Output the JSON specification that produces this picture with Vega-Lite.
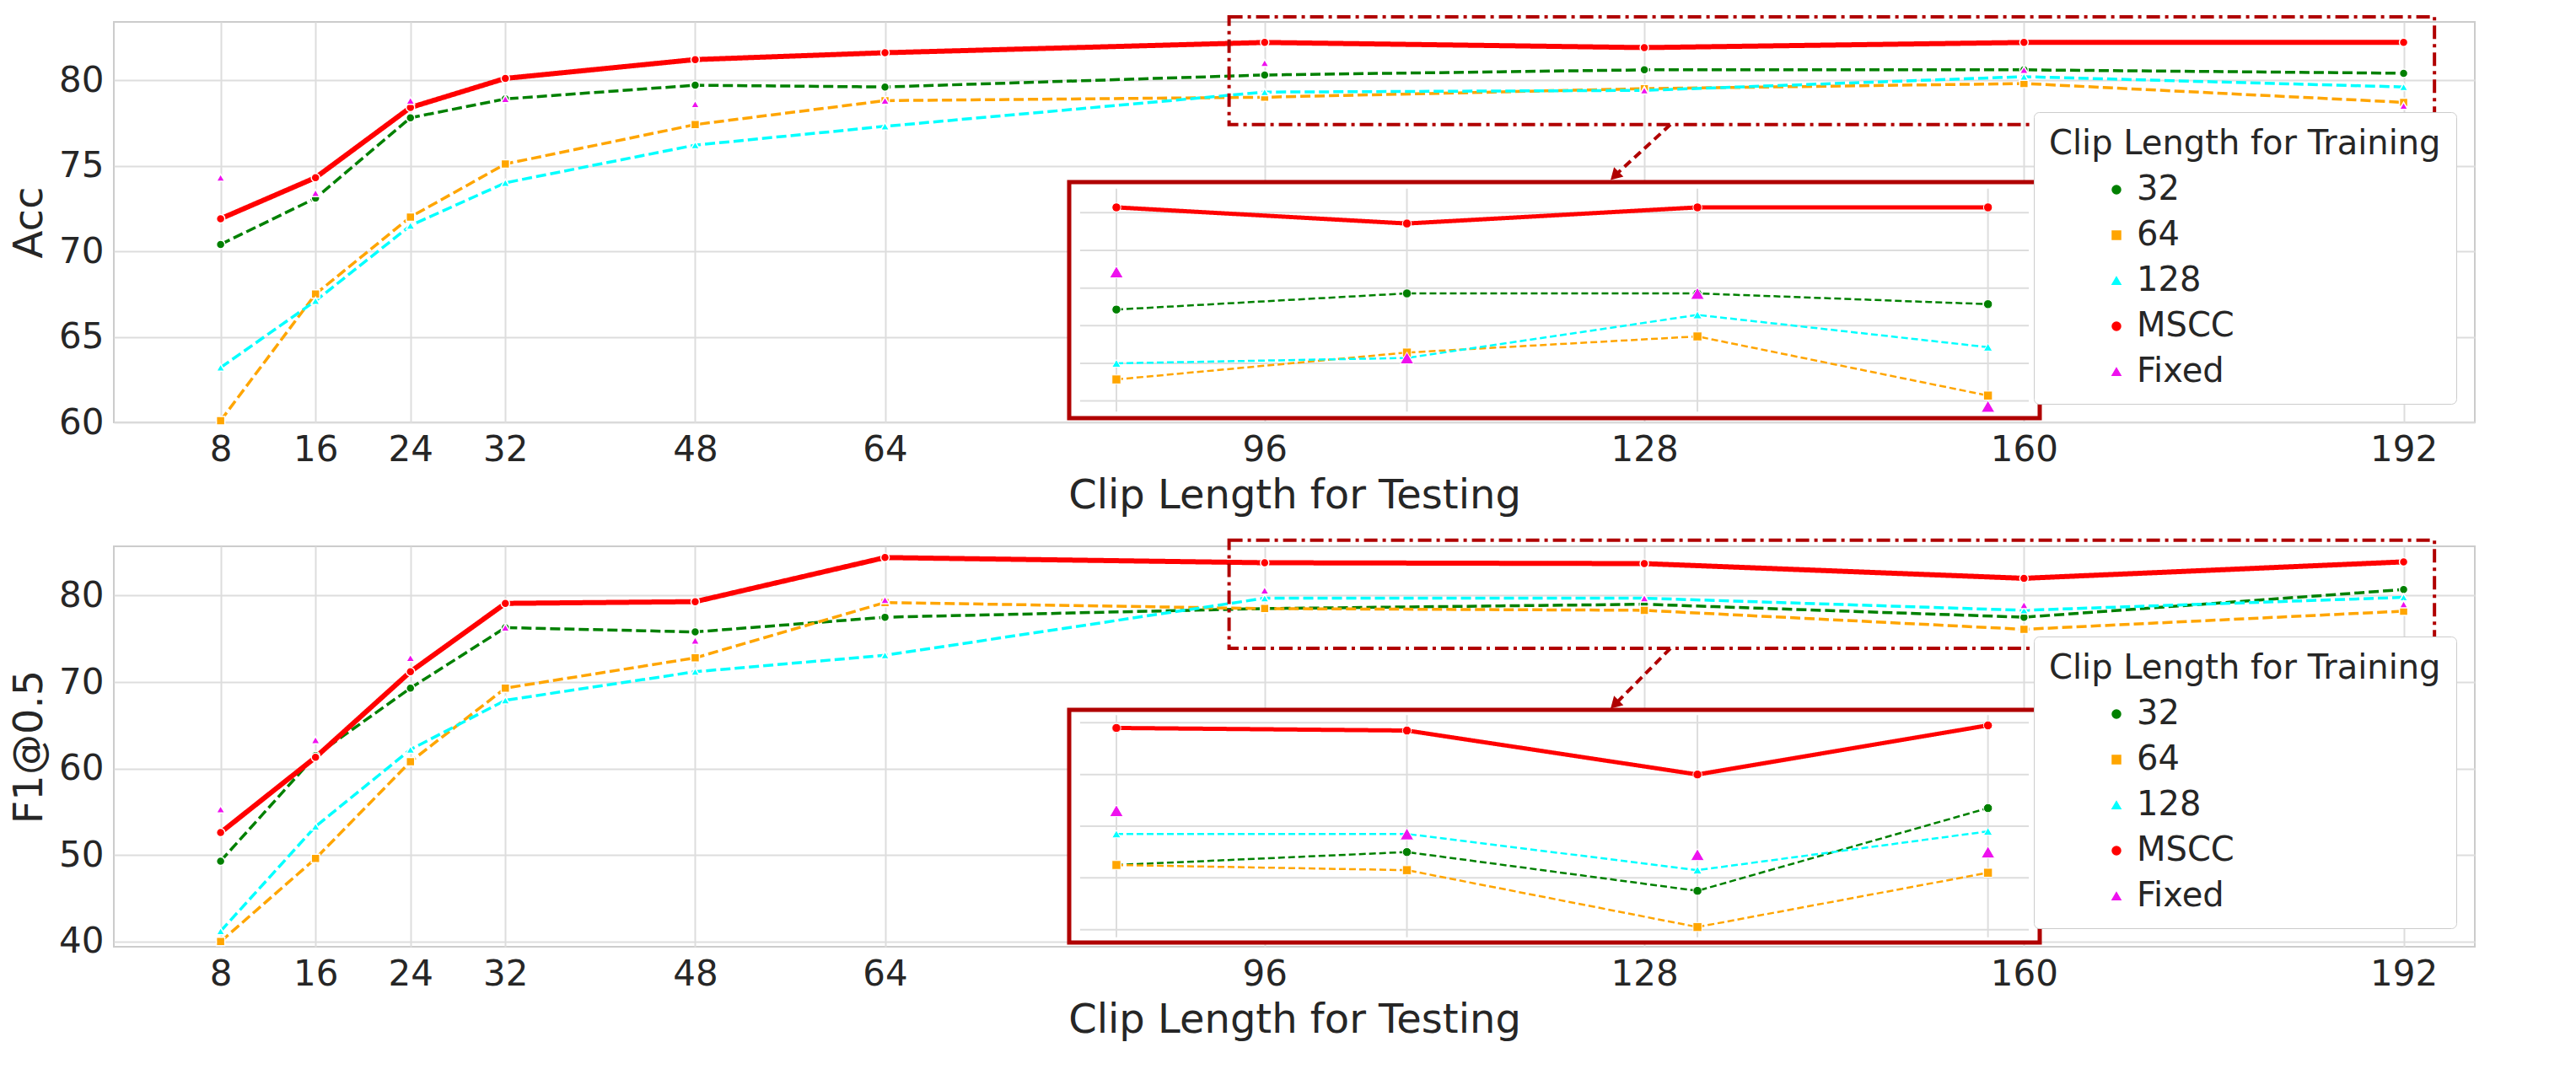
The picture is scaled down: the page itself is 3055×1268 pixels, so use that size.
{
  "$schema": "https://vega.github.io/schema/vega-lite/v6.json",
  "background": "white",
  "padding": {"left": 10, "top": 16, "right": 20, "bottom": 10},
  "config": {
    "font": "DejaVu Sans",
    "view": {"stroke": "#cccccc", "strokeWidth": 2},
    "axis": {"labelFontSize": 42, "titleFontSize": 48, "titleFontWeight": "normal", "labelColor": "#262626", "titleColor": "#262626", "gridColor": "#dddddd", "gridWidth": 2, "domain": false, "ticks": false, "labelPadding": 12, "titlePadding": 10},
    "legend": {"orient": "bottom-right", "offset": 22, "titleFontSize": 40, "labelFontSize": 40, "titleFontWeight": "normal", "titleLimit": 800, "titleColor": "#262626", "labelColor": "#262626", "fillColor": "white", "strokeColor": "#cccccc", "padding": 18, "cornerRadius": 6, "rowPadding": 14, "titlePadding": 14, "symbolOffset": 60}
  },
  "datasets": {
    "acc": [
      {"x": 8, "s": "32", "v": 70.4}, {"x": 16, "s": "32", "v": 73.1}, {"x": 24, "s": "32", "v": 77.8}, {"x": 32, "s": "32", "v": 78.9}, {"x": 48, "s": "32", "v": 79.7}, {"x": 64, "s": "32", "v": 79.6}, {"x": 96, "s": "32", "v": 80.3}, {"x": 128, "s": "32", "v": 80.6}, {"x": 160, "s": "32", "v": 80.6}, {"x": 192, "s": "32", "v": 80.4},
      {"x": 8, "s": "64", "v": 60.1}, {"x": 16, "s": "64", "v": 67.5}, {"x": 24, "s": "64", "v": 72.0}, {"x": 32, "s": "64", "v": 75.1}, {"x": 48, "s": "64", "v": 77.4}, {"x": 64, "s": "64", "v": 78.8}, {"x": 96, "s": "64", "v": 79.0}, {"x": 128, "s": "64", "v": 79.5}, {"x": 160, "s": "64", "v": 79.8}, {"x": 192, "s": "64", "v": 78.7},
      {"x": 8, "s": "128", "v": 63.2}, {"x": 16, "s": "128", "v": 67.1}, {"x": 24, "s": "128", "v": 71.5}, {"x": 32, "s": "128", "v": 74.0}, {"x": 48, "s": "128", "v": 76.2}, {"x": 64, "s": "128", "v": 77.3}, {"x": 96, "s": "128", "v": 79.3}, {"x": 128, "s": "128", "v": 79.4}, {"x": 160, "s": "128", "v": 80.2}, {"x": 192, "s": "128", "v": 79.6},
      {"x": 8, "s": "MSCC", "v": 71.9}, {"x": 16, "s": "MSCC", "v": 74.3}, {"x": 24, "s": "MSCC", "v": 78.4}, {"x": 32, "s": "MSCC", "v": 80.1}, {"x": 48, "s": "MSCC", "v": 81.2}, {"x": 64, "s": "MSCC", "v": 81.6}, {"x": 96, "s": "MSCC", "v": 82.2}, {"x": 128, "s": "MSCC", "v": 81.9}, {"x": 160, "s": "MSCC", "v": 82.2}, {"x": 192, "s": "MSCC", "v": 82.2},
      {"x": 8, "s": "Fixed", "v": 74.3}, {"x": 16, "s": "Fixed", "v": 73.4}, {"x": 24, "s": "Fixed", "v": 78.8}, {"x": 32, "s": "Fixed", "v": 78.9}, {"x": 48, "s": "Fixed", "v": 78.6}, {"x": 64, "s": "Fixed", "v": 78.8}, {"x": 96, "s": "Fixed", "v": 81.0}, {"x": 128, "s": "Fixed", "v": 79.4}, {"x": 160, "s": "Fixed", "v": 80.6}, {"x": 192, "s": "Fixed", "v": 78.5}
    ],
    "f1": [
      {"x": 8, "s": "32", "v": 49.3}, {"x": 16, "s": "32", "v": 61.5}, {"x": 24, "s": "32", "v": 69.3}, {"x": 32, "s": "32", "v": 76.3}, {"x": 48, "s": "32", "v": 75.8}, {"x": 64, "s": "32", "v": 77.5}, {"x": 96, "s": "32", "v": 78.5}, {"x": 128, "s": "32", "v": 79.0}, {"x": 160, "s": "32", "v": 77.5}, {"x": 192, "s": "32", "v": 80.7},
      {"x": 8, "s": "64", "v": 40.0}, {"x": 16, "s": "64", "v": 49.6}, {"x": 24, "s": "64", "v": 60.8}, {"x": 32, "s": "64", "v": 69.3}, {"x": 48, "s": "64", "v": 72.8}, {"x": 64, "s": "64", "v": 79.2}, {"x": 96, "s": "64", "v": 78.5}, {"x": 128, "s": "64", "v": 78.3}, {"x": 160, "s": "64", "v": 76.1}, {"x": 192, "s": "64", "v": 78.2},
      {"x": 8, "s": "128", "v": 41.2}, {"x": 16, "s": "128", "v": 53.3}, {"x": 24, "s": "128", "v": 62.2}, {"x": 32, "s": "128", "v": 67.9}, {"x": 48, "s": "128", "v": 71.2}, {"x": 64, "s": "128", "v": 73.1}, {"x": 96, "s": "128", "v": 79.7}, {"x": 128, "s": "128", "v": 79.7}, {"x": 160, "s": "128", "v": 78.3}, {"x": 192, "s": "128", "v": 79.8},
      {"x": 8, "s": "MSCC", "v": 52.6}, {"x": 16, "s": "MSCC", "v": 61.3}, {"x": 24, "s": "MSCC", "v": 71.2}, {"x": 32, "s": "MSCC", "v": 79.1}, {"x": 48, "s": "MSCC", "v": 79.3}, {"x": 64, "s": "MSCC", "v": 84.4}, {"x": 96, "s": "MSCC", "v": 83.8}, {"x": 128, "s": "MSCC", "v": 83.7}, {"x": 160, "s": "MSCC", "v": 82.0}, {"x": 192, "s": "MSCC", "v": 83.9},
      {"x": 8, "s": "Fixed", "v": 55.3}, {"x": 16, "s": "Fixed", "v": 63.3}, {"x": 24, "s": "Fixed", "v": 72.8}, {"x": 32, "s": "Fixed", "v": 76.3}, {"x": 48, "s": "Fixed", "v": 74.8}, {"x": 64, "s": "Fixed", "v": 79.5}, {"x": 96, "s": "Fixed", "v": 80.6}, {"x": 128, "s": "Fixed", "v": 79.7}, {"x": 160, "s": "Fixed", "v": 78.9}, {"x": 192, "s": "Fixed", "v": 79.0}
    ]
  },
  "vconcat": [
    {
      "width": 2800, "height": 475,
      "layer": [
        {"layer": [
          {"data": {"name": "acc"}, "transform": [{"filter": "datum.s != 'Fixed'"}],
           "mark": {"type": "line"},
           "encoding": {
             "x": {"field": "x", "type": "quantitative", "scale": {"domain": [-1, 198], "nice": false, "zero": false}, "axis": {"values": [8, 16, 24, 32, 48, 64, 96, 128, 160, 192], "title": "Clip Length for Testing"}},
             "y": {"field": "v", "type": "quantitative", "scale": {"domain": [60, 83.4], "nice": false, "zero": false}, "axis": {"values": [60, 65, 70, 75, 80], "title": "Acc"}},
             "color": {"field": "s", "type": "nominal", "scale": {"domain": ["32", "64", "128", "MSCC", "Fixed"], "range": ["#008000", "#FFA500", "#00FFFF", "#FF0000", "#EE11EE"]}, "title": "Clip Length for Training"},
             "strokeDash": {"condition": {"test": "datum.s == 'MSCC'", "value": [1, 0]}, "value": [12, 5]},
             "strokeWidth": {"condition": {"test": "datum.s == 'MSCC'", "value": 6}, "value": 3.5}
           }},
          {"data": {"name": "acc"},
           "mark": {"type": "point", "filled": true, "opacity": 1, "stroke": "white", "strokeWidth": 1.5},
           "encoding": {
             "x": {"field": "x", "type": "quantitative"},
             "y": {"field": "v", "type": "quantitative"},
             "color": {"field": "s", "type": "nominal", "title": "Clip Length for Training"},
             "shape": {"field": "s", "type": "nominal", "scale": {"domain": ["32", "64", "128", "MSCC", "Fixed"], "range": ["circle", "square", "triangle-up", "circle", "triangle-up"]}, "title": "Clip Length for Training"},
             "size": {"field": "s", "type": "ordinal", "scale": {"domain": ["32", "64", "128", "MSCC", "Fixed"], "range": [100, 100, 100, 520, 750]}, "title": "Clip Length for Training"}
           }},
          {"data": {"values": [{}]},
           "mark": {"type": "rect", "fillOpacity": 0, "stroke": "#B00000", "strokeWidth": 4, "strokeDash": [16, 6, 4, 6], "clip": false},
           "encoding": {"x": {"datum": 93}, "x2": {"datum": 194.6}, "y": {"datum": 77.4}, "y2": {"datum": 83.7}}},
          {"data": {"values": [{}]},
           "mark": {"type": "rule", "stroke": "#B00000", "strokeWidth": 4, "strokeDash": [10, 6]},
           "encoding": {"x": {"datum": 130.2}, "x2": {"datum": 125.8}, "y": {"datum": 77.4}, "y2": {"datum": 74.6}}},
          {"data": {"values": [{}]},
           "mark": {"type": "point", "shape": "triangle-up", "filled": true, "color": "#B00000", "size": 250, "angle": 225, "opacity": 1},
           "encoding": {"x": {"datum": 125.5}, "y": {"datum": 74.4}}}
        ]},
        {"layer": [
          {"data": {"values": [{}]},
           "mark": {"type": "rect", "fill": "white", "stroke": "#B00000", "strokeWidth": 5},
           "encoding": {
             "x": {"datum": 90.8, "scale": {"domain": [90.8, 197.7], "range": [1133, 2284], "nice": false, "zero": false}, "axis": null},
             "x2": {"datum": 197.7},
             "y": {"datum": 78.28, "scale": {"domain": [78.28, 82.67], "range": [470, 190], "nice": false, "zero": false}, "axis": null},
             "y2": {"datum": 82.67}}},
          {"data": {"values": [{"g": 96}, {"g": 128}, {"g": 160}, {"g": 192}]},
           "mark": {"type": "rule", "stroke": "#dddddd", "strokeWidth": 2},
           "encoding": {"x": {"field": "g", "type": "quantitative"}, "y": {"datum": 78.4}, "y2": {"datum": 82.55}}},
          {"data": {"values": [{"g": 78.6}, {"g": 79.3}, {"g": 80.0}, {"g": 80.7}, {"g": 81.4}, {"g": 82.1}]},
           "mark": {"type": "rule", "stroke": "#dddddd", "strokeWidth": 2},
           "encoding": {"y": {"field": "g", "type": "quantitative"}, "x": {"datum": 92}, "x2": {"datum": 196.5}}},
          {"data": {"name": "acc"}, "transform": [{"filter": "datum.s != 'Fixed' && datum.x >= 96"}],
           "mark": {"type": "line"},
           "encoding": {
             "x": {"field": "x", "type": "quantitative"},
             "y": {"field": "v", "type": "quantitative"},
             "color": {"field": "s", "type": "nominal", "title": "Clip Length for Training"},
             "strokeDash": {"condition": {"test": "datum.s == 'MSCC'", "value": [1, 0]}, "value": [8, 4]},
             "strokeWidth": {"condition": {"test": "datum.s == 'MSCC'", "value": 5}, "value": 2.5}
           }},
          {"data": {"name": "acc"}, "transform": [{"filter": "datum.x >= 96"}],
           "mark": {"type": "point", "filled": true, "opacity": 1, "stroke": "white", "strokeWidth": 1},
           "encoding": {
             "x": {"field": "x", "type": "quantitative"},
             "y": {"field": "v", "type": "quantitative"},
             "color": {"field": "s", "type": "nominal", "title": "Clip Length for Training"},
             "shape": {"field": "s", "type": "nominal", "title": "Clip Length for Training"},
             "size": {"condition": {"test": "datum.s == 'Fixed'", "value": 260}, "value": 110}
           }}
        ]}
      ],
      "resolve": {"scale": {"x": "independent", "y": "independent"}}
    },
    {
      "width": 2800, "height": 475,
      "layer": [
        {"layer": [
          {"data": {"name": "f1"}, "transform": [{"filter": "datum.s != 'Fixed'"}],
           "mark": {"type": "line"},
           "encoding": {
             "x": {"field": "x", "type": "quantitative", "scale": {"domain": [-1, 198], "nice": false, "zero": false}, "axis": {"values": [8, 16, 24, 32, 48, 64, 96, 128, 160, 192], "title": "Clip Length for Testing"}},
             "y": {"field": "v", "type": "quantitative", "scale": {"domain": [39.4, 85.7], "nice": false, "zero": false}, "axis": {"values": [40, 50, 60, 70, 80], "title": "F1@0.5"}},
             "color": {"field": "s", "type": "nominal", "scale": {"domain": ["32", "64", "128", "MSCC", "Fixed"], "range": ["#008000", "#FFA500", "#00FFFF", "#FF0000", "#EE11EE"]}, "title": "Clip Length for Training"},
             "strokeDash": {"condition": {"test": "datum.s == 'MSCC'", "value": [1, 0]}, "value": [12, 5]},
             "strokeWidth": {"condition": {"test": "datum.s == 'MSCC'", "value": 6}, "value": 3.5}
           }},
          {"data": {"name": "f1"},
           "mark": {"type": "point", "filled": true, "opacity": 1, "stroke": "white", "strokeWidth": 1.5},
           "encoding": {
             "x": {"field": "x", "type": "quantitative"},
             "y": {"field": "v", "type": "quantitative"},
             "color": {"field": "s", "type": "nominal", "title": "Clip Length for Training"},
             "shape": {"field": "s", "type": "nominal", "scale": {"domain": ["32", "64", "128", "MSCC", "Fixed"], "range": ["circle", "square", "triangle-up", "circle", "triangle-up"]}, "title": "Clip Length for Training"},
             "size": {"field": "s", "type": "ordinal", "scale": {"domain": ["32", "64", "128", "MSCC", "Fixed"], "range": [100, 100, 100, 520, 750]}, "title": "Clip Length for Training"}
           }},
          {"data": {"values": [{}]},
           "mark": {"type": "rect", "fillOpacity": 0, "stroke": "#B00000", "strokeWidth": 4, "strokeDash": [16, 6, 4, 6], "clip": false},
           "encoding": {"x": {"datum": 93}, "x2": {"datum": 194.6}, "y": {"datum": 73.9}, "y2": {"datum": 86.4}}},
          {"data": {"values": [{}]},
           "mark": {"type": "rule", "stroke": "#B00000", "strokeWidth": 4, "strokeDash": [10, 6]},
           "encoding": {"x": {"datum": 130.2}, "x2": {"datum": 125.8}, "y": {"datum": 73.9}, "y2": {"datum": 67.8}}},
          {"data": {"values": [{}]},
           "mark": {"type": "point", "shape": "triangle-up", "filled": true, "color": "#B00000", "size": 250, "angle": 225, "opacity": 1},
           "encoding": {"x": {"datum": 125.5}, "y": {"datum": 67.4}}}
        ]},
        {"layer": [
          {"data": {"values": [{}]},
           "mark": {"type": "rect", "fill": "white", "stroke": "#B00000", "strokeWidth": 5},
           "encoding": {
             "x": {"datum": 90.8, "scale": {"domain": [90.8, 197.7], "range": [1133, 2284], "nice": false, "zero": false}, "axis": null},
             "x2": {"datum": 197.7},
             "y": {"datum": 75.5, "scale": {"domain": [75.5, 84.5], "range": [470, 194], "nice": false, "zero": false}, "axis": null},
             "y2": {"datum": 84.5}}},
          {"data": {"values": [{"g": 96}, {"g": 128}, {"g": 160}, {"g": 192}]},
           "mark": {"type": "rule", "stroke": "#dddddd", "strokeWidth": 2},
           "encoding": {"x": {"field": "g", "type": "quantitative"}, "y": {"datum": 75.7}, "y2": {"datum": 84.3}}},
          {"data": {"values": [{"g": 76}, {"g": 78}, {"g": 80}, {"g": 82}, {"g": 84}]},
           "mark": {"type": "rule", "stroke": "#dddddd", "strokeWidth": 2},
           "encoding": {"y": {"field": "g", "type": "quantitative"}, "x": {"datum": 92}, "x2": {"datum": 196.5}}},
          {"data": {"name": "f1"}, "transform": [{"filter": "datum.s != 'Fixed' && datum.x >= 96"}],
           "mark": {"type": "line"},
           "encoding": {
             "x": {"field": "x", "type": "quantitative"},
             "y": {"field": "v", "type": "quantitative"},
             "color": {"field": "s", "type": "nominal", "title": "Clip Length for Training"},
             "strokeDash": {"condition": {"test": "datum.s == 'MSCC'", "value": [1, 0]}, "value": [8, 4]},
             "strokeWidth": {"condition": {"test": "datum.s == 'MSCC'", "value": 5}, "value": 2.5}
           }},
          {"data": {"name": "f1"}, "transform": [{"filter": "datum.x >= 96"}],
           "mark": {"type": "point", "filled": true, "opacity": 1, "stroke": "white", "strokeWidth": 1},
           "encoding": {
             "x": {"field": "x", "type": "quantitative"},
             "y": {"field": "v", "type": "quantitative"},
             "color": {"field": "s", "type": "nominal", "title": "Clip Length for Training"},
             "shape": {"field": "s", "type": "nominal", "title": "Clip Length for Training"},
             "size": {"condition": {"test": "datum.s == 'Fixed'", "value": 260}, "value": 110}
           }}
        ]}
      ],
      "resolve": {"scale": {"x": "independent", "y": "independent"}}
    }
  ],
  "spacing": 24,
  "resolve": {"scale": {"color": "independent", "shape": "independent", "size": "independent"}}
}
